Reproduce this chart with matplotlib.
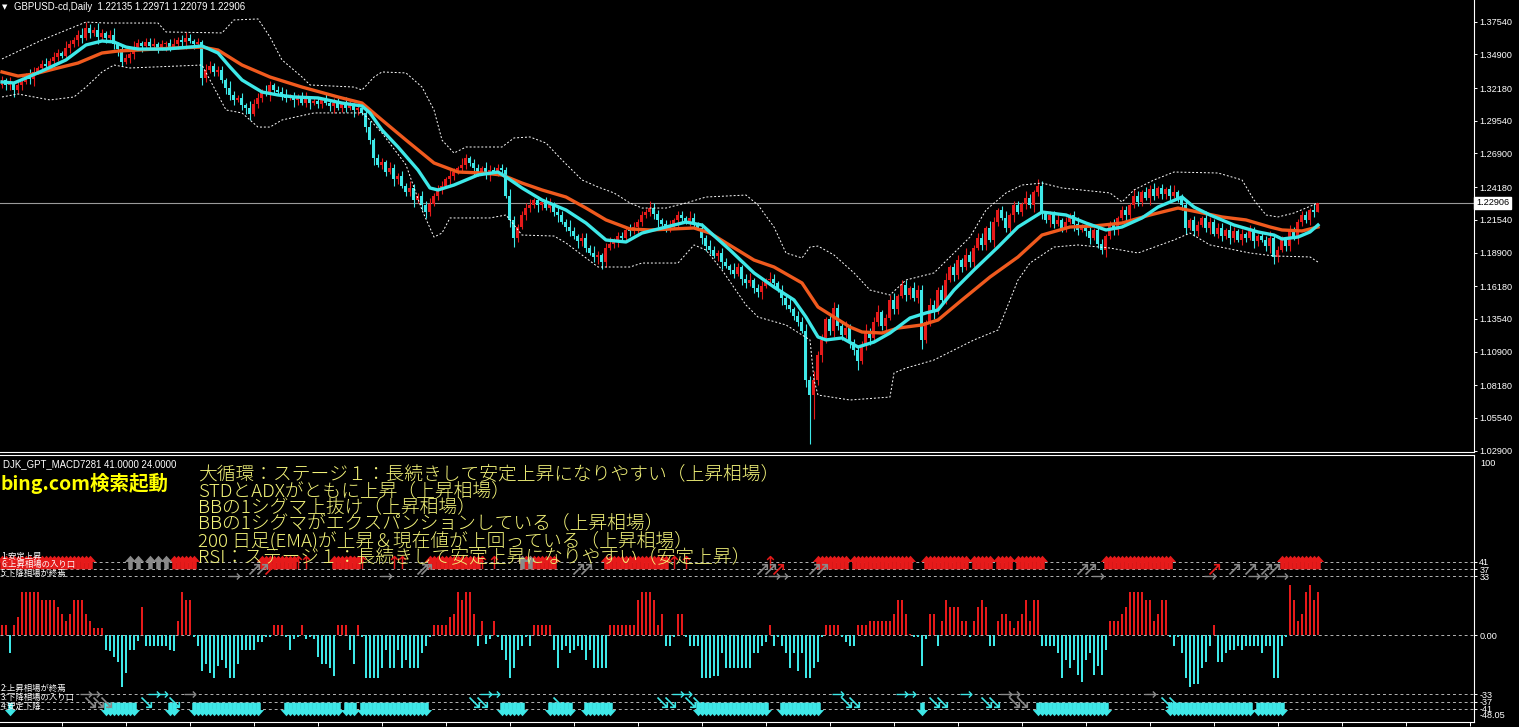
import numpy as np
import matplotlib
matplotlib.use("Agg")
import matplotlib.pyplot as plt
from matplotlib.path import Path
from matplotlib.transforms import blended_transform_factory

plt.rcParams['font.family'] = ['Liberation Sans', 'DejaVu Sans']
JP = ['Noto Sans CJK JP', 'DejaVu Sans']

W, H = 1519, 727

RED = '#e61a1a'
AQUA = '#3ee8e8'
ORANGE = '#f05a1e'
GRAY = '#8a8a8a'

symbol = "GBPUSD-cd,Daily"
ohlc_last = "1.22135 1.22971 1.22079 1.22906"
last_price = 1.22906
indicator_name = "DJK_GPT_MACD7281 41.0000 24.0000"

# daily closes in 1/1000 (bar by bar)
close = np.array([
    1328, 1324, 1325, 1320, 1324, 1327, 1332, 1329, 1335, 1338, 1341, 1340, 1344, 1347, 1350, 1348,
    1354, 1357, 1361, 1365, 1362, 1370,
    1366, 1369, 1363, 1366, 1362, 1365, 1357, 1353, 1343, 1346, 1349, 1354, 1358, 1356,
    1359, 1356, 1357, 1354, 1357, 1358, 1355, 1357, 1361, 1359, 1362, 1360, 1357, 1359,
    1330, 1336, 1340, 1335, 1336, 1328, 1322, 1316, 1312, 1314, 1308, 1306, 1301, 1309, 1314, 1319,
    1317, 1324, 1320, 1319, 1316, 1314, 1315, 1312, 1315, 1310, 1313, 1310, 1311, 1309, 1312, 1310,
    1307, 1310, 1306, 1309, 1306, 1308, 1304, 1306,
    1302, 1290, 1280, 1265, 1260, 1262, 1254, 1257, 1248, 1251, 1243, 1238, 1241, 1231, 1235, 1227,
    1222, 1228, 1235, 1240, 1243, 1248, 1251, 1254, 1257, 1260, 1265, 1261, 1257, 1254, 1257, 1252,
    1256, 1254, 1257, 1256,
    1235, 1215, 1201, 1210, 1219, 1225, 1227, 1231, 1227, 1230, 1225, 1228, 1222, 1219, 1214, 1210,
    1206, 1202, 1198, 1201, 1193, 1189, 1185, 1187, 1181, 1193, 1196, 1199, 1202, 1201, 1207, 1206,
    1210, 1214, 1219, 1222, 1225, 1220, 1215, 1212, 1209, 1210, 1215, 1219, 1217, 1214, 1217, 1212,
    1209,
    1201, 1194, 1191, 1186, 1189, 1181, 1178, 1175, 1172, 1177, 1168, 1164, 1167, 1160, 1157, 1162,
    1167, 1168, 1164, 1159, 1152, 1147, 1143, 1138, 1133, 1126,
    1086, 1074, 1086, 1106, 1118, 1135, 1126, 1144, 1130, 1122, 1128, 1117, 1110, 1101, 1114, 1126,
    1120, 1133, 1141, 1130, 1136, 1151, 1143, 1154, 1163, 1155, 1160, 1152, 1159, 1118, 1133, 1147,
    1141, 1159, 1151, 1167, 1177, 1171, 1183, 1177, 1187, 1181, 1193, 1201, 1195, 1209, 1199, 1214,
    1223, 1217, 1209, 1219, 1227, 1222, 1228, 1233, 1227, 1238, 1243,
    1220, 1215, 1219, 1212, 1215, 1209, 1214, 1219, 1212, 1207, 1210, 1206, 1201, 1207, 1196, 1191,
    1202, 1211, 1207, 1217, 1223, 1219, 1227, 1235, 1230, 1238, 1233, 1240, 1235, 1241, 1236, 1240,
    1235, 1238, 1233, 1227, 1209, 1215, 1206, 1211, 1217, 1209, 1214, 1204, 1209, 1202, 1207, 1201,
    1206, 1199, 1204, 1201, 1206, 1198, 1202, 1199, 1194, 1201, 1185, 1191, 1199, 1194, 1206, 1201,
    1214, 1219, 1215, 1223, 1221.35, 1229.06,
]) / 1000
first_open = 1.3240

# upper / lower wick lengths, in steps of 0.0018
WICK_STEP = 0.0018
wick_hi = np.array([
    2, 1, 3, 1, 2, 2, 1, 3, 2, 1, 2, 3, 1, 2, 2, 1, 3, 2, 1, 2, 3, 3, 2, 1, 3, 2, 1, 2, 3, 1,
    2, 2, 1, 3, 2, 1, 2, 2, 3, 1, 2, 1, 2, 3, 1, 2, 3, 2, 1, 2, 1, 3, 2, 1, 2, 2, 1, 3, 2, 1,
    2, 1, 3, 2, 2, 1, 3, 2, 1, 2, 2, 3, 1, 2, 1, 2, 3, 1, 2, 2, 1, 3, 1, 2, 2, 1, 3, 2, 1, 2,
    1, 2, 3, 1, 2, 2, 1, 3, 2, 1, 2, 1, 3, 2, 1, 2, 2, 3, 1, 2, 2, 1, 3, 2, 1, 3, 2, 1, 2, 2,
    1, 3, 2, 1, 2, 2, 1, 3, 2, 1, 2, 2, 3, 1, 2, 1, 2, 3, 1, 2, 2, 1, 3, 2, 1, 2, 2, 1, 3, 2,
    1, 2, 3, 1, 2, 2, 1, 3, 2, 1, 2, 1, 3, 2, 2, 1, 2, 3, 1, 2, 2, 1, 3, 2, 1, 2, 1, 3, 2, 1,
    2, 2, 1, 3, 2, 1, 2, 3, 1, 2, 2, 1, 3, 2, 1, 2, 2, 3, 1, 2, 2, 3, 2, 4, 2, 3, 1, 2, 3, 2,
    1, 3, 2, 1, 2, 2, 3, 1, 2, 3, 1, 2, 2, 3, 1, 2, 2, 1, 3, 2, 2, 1, 3, 2, 1, 2, 3, 1, 2, 2,
    1, 3, 2, 1, 2, 2, 1, 3, 2, 1, 2, 3, 1, 2, 2, 1, 3, 2, 1, 3, 2, 1, 2, 2, 3, 1, 2, 1, 2, 3,
    1, 2, 2, 1, 3, 2, 1, 2, 3, 1, 2, 2, 1, 3, 2, 1, 2, 2, 3, 1, 2, 1, 2, 3, 1, 2, 3, 1, 2, 2,
    1, 3, 2, 1, 2, 2, 1, 3, 2, 1, 2, 1, 3, 2, 1, 2, 2, 3, 1, 2, 2, 1, 3, 2, 1, 2, 2, 1, 3, 0,
]) * WICK_STEP
wick_lo = np.array([
    1, 2, 2, 3, 1, 2, 1, 2, 3, 1, 2, 2, 1, 3, 2, 1, 2, 2, 1, 3, 2, 1, 2, 1, 3, 2, 2, 1, 2, 3,
    2, 1, 2, 2, 1, 3, 2, 1, 2, 2, 1, 3, 2, 1, 2, 2, 3, 1, 2, 1, 3, 2, 1, 2, 2, 1, 3, 2, 2, 1,
    2, 3, 3, 1, 2, 2, 1, 3, 2, 1, 2, 2, 1, 3, 2, 1, 2, 3, 1, 2, 2, 1, 2, 3, 1, 2, 2, 1, 3, 2,
    1, 2, 2, 3, 1, 2, 2, 1, 3, 2, 1, 2, 2, 3, 1, 2, 3, 2, 1, 2, 2, 1, 3, 2, 1, 2, 2, 1, 3, 2,
    1, 2, 3, 1, 2, 2, 1, 3, 4, 2, 1, 2, 2, 1, 3, 2, 1, 2, 2, 3, 1, 2, 2, 1, 3, 2, 2, 1, 2, 3,
    3, 2, 1, 2, 3, 1, 2, 2, 1, 3, 2, 1, 2, 2, 3, 1, 2, 2, 1, 3, 2, 1, 2, 2, 1, 3, 2, 2, 1, 2,
    3, 1, 2, 2, 1, 3, 2, 1, 2, 2, 3, 1, 2, 2, 1, 3, 2, 1, 2, 2, 1, 3, 22, 11, 2, 3, 1, 2, 3, 2,
    2, 1, 3, 2, 4, 1, 2, 3, 1, 2, 2, 3, 1, 2, 2, 1, 3, 2, 1, 2, 4, 1, 2, 3, 1, 2, 2, 1, 3, 2,
    2, 1, 2, 3, 1, 2, 2, 1, 3, 2, 1, 2, 2, 3, 1, 2, 2, 1, 3, 2, 2, 1, 3, 2, 1, 2, 2, 1, 3, 2,
    1, 2, 3, 1, 2, 2, 3, 1, 2, 2, 1, 3, 2, 1, 2, 2, 1, 3, 2, 1, 2, 2, 3, 1, 2, 2, 3, 1, 2, 2,
    1, 2, 3, 1, 2, 2, 1, 3, 2, 1, 2, 2, 1, 3, 2, 1, 2, 3, 3, 2, 1, 2, 2, 1, 3, 2, 1, 2, 2, 0,
]) * WICK_STEP

# moving averages, sampled at bar index
ema_fast_i = [0, 3, 6, 10, 16, 21, 25, 28, 31, 34, 41, 47, 50, 54, 57, 60, 65, 69, 73, 79,
              85, 90, 92, 95, 99, 104, 107, 109, 113, 119, 124, 126, 130, 135, 141, 146, 151, 156, 160, 165,
              171, 175, 182, 188, 193, 198, 201, 204, 206, 210, 214, 218, 222, 227, 231, 234, 238, 243, 249, 254,
              260, 266, 271, 276, 280, 285, 289, 295, 298, 302, 308, 314, 318, 320, 324, 327, 329]
ema_fast_v = [1.3267, 1.3259, 1.3299, 1.3356, 1.3445, 1.3566, 1.3598, 1.3590, 1.3549, 1.3533,
              1.3533, 1.3549, 1.3558, 1.3501, 1.3388, 1.3283, 1.3186, 1.3162, 1.3146, 1.3138,
              1.3097, 1.3073, 1.3017, 1.2879, 1.2742, 1.2556, 1.2411, 1.2395, 1.2435, 1.2516,
              1.2540, 1.2500, 1.2411, 1.2314, 1.2233, 1.2128, 1.1991, 1.1975, 1.2047, 1.2088,
              1.2136, 1.2112, 1.1910, 1.1725, 1.1611, 1.1507, 1.1369, 1.1208, 1.1184, 1.1200,
              1.1127, 1.1167, 1.1240, 1.1361, 1.1402, 1.1426, 1.1587, 1.1749, 1.1934, 1.2096,
              1.2217, 1.2193, 1.2128, 1.2072, 1.2096, 1.2169, 1.2257, 1.2338, 1.2257, 1.2193,
              1.2112, 1.2056, 1.2031, 1.1999, 1.2015, 1.2056, 1.2112]
ema_slow_i = [0, 4, 8, 14, 19, 25, 29, 34, 43, 50, 54, 60, 67, 75, 84, 90, 95, 101, 108, 114,
              120, 125, 130, 135, 141, 146, 151, 157, 162, 173, 177, 188, 193, 200, 204, 208, 212, 215, 220, 224,
              230, 234, 240, 247, 254, 260, 267, 273, 280, 287, 294, 299, 305, 311, 317, 320, 325, 329]
ema_slow_v = [1.3348, 1.3315, 1.3331, 1.3380, 1.3420, 1.3501, 1.3517, 1.3525, 1.3541, 1.3549,
              1.3525, 1.3404, 1.3307, 1.3226, 1.3146, 1.3097, 1.2960, 1.2798, 1.2613, 1.2540,
              1.2532, 1.2516, 1.2451, 1.2395, 1.2338, 1.2249, 1.2153, 1.2080, 1.2072, 1.2088,
              1.2047, 1.1829, 1.1773, 1.1644, 1.1450, 1.1369, 1.1288, 1.1248, 1.1240, 1.1280,
              1.1305, 1.1345, 1.1507, 1.1692, 1.1854, 1.2031, 1.2096, 1.2104, 1.2128, 1.2193,
              1.2249, 1.2217, 1.2177, 1.2153, 1.2096, 1.2072, 1.2064, 1.2096]

# bollinger bands
bb_up_i = [0, 10, 21, 26, 39, 41, 55, 58, 64, 67, 70, 75, 77, 88, 90, 93, 95, 101, 105, 108,
           110, 113, 116, 125, 128, 132, 136, 140, 145, 149, 153, 157, 160, 166, 171, 176, 186, 189, 193, 196,
           200, 202, 204, 208, 213, 217, 222, 226, 233, 237, 242, 246, 251, 255, 260, 265, 277, 280, 283, 288,
           293, 304, 310, 313, 316, 319, 323, 329]
bb_up_v = [1.3453, 1.3606, 1.3751, 1.3743, 1.3743, 1.3671, 1.3663, 1.3768, 1.3776, 1.3630,
           1.3445, 1.3307, 1.3243, 1.3226, 1.3202, 1.3307, 1.3348, 1.3340, 1.3226, 1.3041,
           1.2798, 1.2693, 1.2742, 1.2742, 1.2815, 1.2823, 1.2774, 1.2637, 1.2476, 1.2419,
           1.2371, 1.2290, 1.2249, 1.2249, 1.2290, 1.2338, 1.2354, 1.2274, 1.2096, 1.1886,
           1.1846, 1.1934, 1.1942, 1.1870, 1.1725, 1.1587, 1.1547, 1.1668, 1.1725, 1.1854,
           1.2015, 1.2233, 1.2371, 1.2435, 1.2451, 1.2411, 1.2371, 1.2298, 1.2395, 1.2476,
           1.2540, 1.2532, 1.2476, 1.2314, 1.2193, 1.2177, 1.2209, 1.2290]
bb_lo_i = [0, 4, 12, 18, 21, 25, 28, 32, 50, 52, 56, 60, 64, 67, 70, 78, 90, 92, 95, 101,
           105, 108, 110, 112, 122, 126, 130, 138, 141, 149, 157, 160, 169, 173, 176, 180, 186, 189, 196, 202,
           203, 204, 212, 222, 223, 226, 233, 237, 243, 249, 252, 254, 257, 263, 269, 277, 284, 293, 297, 302,
           312, 318, 327, 329]
bb_lo_v = [1.3146, 1.3170, 1.3122, 1.3146, 1.3226, 1.3348, 1.3404, 1.3380, 1.3404, 1.3283,
           1.3041, 1.3017, 1.2903, 1.2903, 1.2960, 1.3017, 1.3017, 1.2960, 1.2855, 1.2597,
           1.2233, 1.2015, 1.2047, 1.2169, 1.2169, 1.2193, 1.2031, 1.2023, 1.1967, 1.1773,
           1.1773, 1.1805, 1.1805, 1.1951, 1.1910, 1.1749, 1.1466, 1.1369, 1.1305, 1.1184,
           1.0861, 1.0739, 1.0699, 1.0723, 1.0917, 1.0957, 1.1022, 1.1087, 1.1184, 1.1264,
           1.1507, 1.1668, 1.1805, 1.1934, 1.1951, 1.1926, 1.1886, 1.1991, 1.2047, 1.1951,
           1.1886, 1.1862, 1.1854, 1.1813]

price_ticks = [1.37540, 1.34900, 1.32180, 1.29540, 1.26900, 1.24180, 1.21540,
               1.18900, 1.16180, 1.13540, 1.10900, 1.08180, 1.05540, 1.02900]

# oscillator histogram
hist = np.array([
    6, 6, -10, 6, 10, 24, 24, 24, 24, 24, 20, 20, 20, 20, 16, 12, 8, 12, 20, 20, 20, 12, 8, 4, 4, 4,
    -8, -9, -12, -15, -29, -21, -8, -8, -3, 16, -6, -6, -6, -6, -6, -6, -8, -9, 8, 24, 20, 20,
    -1, -6, -20, -16, -21, -24, -17, -14, -18, -24, -24, -16, -8, -8, -8, -8, -4, -4, -1, -1,
    6, 6, 6, -1, -8, -2, -1, 6, -2, -1, -2, -12, -16, -16, -18, -23, 6, 6, 6, -8, -16, 6,
    -1, -24, -24, -24, -24, -18, -8, -18, -18, -8, -18, -14, -18, -18, -18, -10, -6, -1,
    6, 6, 6, 6, 10, 12, 24, 20, 24, 24, 12, -6, 8, -5, -2, 8, -1, -8, -14, -24, -18, -8, -6, -1, -6,
    6, 6, 6, 6, 6,
    -8, -18, -8, -6, -10, -8, -6, -8, -14, -8, -18, -18, -18, -18, 6, 6, 6, 6, 6, 6, 6, 20, 24, 24,
    24, 20, 6, 12, -6, -6, -1, 12, 12, -1,
    -6, -6, -6, -24, -24, -24, -23, -23, -10, -18, -18, -18, -18, -18, -18, -18, -10, -10, -6, -4,
    6, -6, -1, -6, -10, -18, -10, -20, -10, -24, -24, -18, -15, -1, 6, 6, 6, 6, -1, -4, -6, -6,
    6, 6, 6, 8, 8, 8, 8, 8, 8, 12, 20, 20, 12, 1, -1, -1, -17, -2, 12, 12, -6, 8, 20, 16, 16, 16,
    8, 8, -1, 8, 16, 20, 16, -6, -6, 8, 12, 12, 8, 4, 8, 12, 20, 8, 20, 20,
    -6, -6, -6, -6, -10, -24, -14, -18, -14, -22, -26, -14, -10, -22, -17, -22, -8, 8, 8, 8,
    12, 16, 24, 24, 24, 24, 20, 20, 8, 12, 20, 20,
    -1, -6, -1, -10, -24, -29, -27, -27, -18, -15, -6, 6, -15, -15, -10, -8, -8, -6, -8, -6,
    -6, -6, -6, -10, -6, -6, -24, -24, -6, -1, 28, 20, 8, 12, 24, 28, 20, 24,
])

osc_levels = [41, 37, 33, 0, -33, -37, -41]
osc_labels = ['41', '37', '33', '0.00', '-33', '-37', '-41']

# signal arrows (bar indices)
up_red_runs = [(0, 22), (43, 48), (65, 73), (83, 89), (107, 119), (130, 138), (151, 166),
               (204, 211), (213, 227), (231, 241), (243, 247), (249, 252), (254, 260),
               (276, 292), (320, 329)]
up_red_thin = [74, 76, 87, 90, 98, 100, 120, 123, 168, 171, 192]
up_gray = [32, 34, 37, 39, 41, 130, 132]
ne_gray = [63, 65, 105, 106, 144, 146, 190, 192, 203, 205, 270, 272, 308, 312, 316, 318]
ne_red = [67, 194, 303]
right_gray_top = [58, 96, 193, 195, 274, 302, 313, 315, 320]
down_cyan_runs = [(2, 2), (26, 33), (42, 43), (48, 64), (71, 84), (86, 88), (90, 106),
                  (125, 130), (137, 142), (146, 152), (174, 191), (195, 204), (230, 230),
                  (259, 276), (292, 312), (314, 316), (317, 320)]
se_cyan = [36, 43, 118, 120, 139, 165, 167, 172, 174, 211, 213, 233, 235, 246, 248, 291, 293]
right_cyan = [38, 40, 121, 123, 169, 171, 209, 225, 227, 241]
right_gray_bot = [21, 23, 47, 251, 253, 287]
se_gray = [22, 24, 26, 253, 255]

signal_lines = [
    "大循環：ステージ１：長続きして安定上昇になりやすい（上昇相場）",
    "STDとADXがともに上昇（上昇相場）",
    "BBの1シグマ上抜け（上昇相場）",
    "BBの1シグマがエクスパンションしている（上昇相場）",
    "200 日足(EMA)が上昇＆現在値が上回っている（上昇相場）",
    "RSI：ステージ１：長続きして安定上昇になりやすい（安定上昇）",
]
top_legend = ["1:安定上昇", "6:上昇相場の入り口", "5:下降相場が終焉"]
bottom_legend = ["2:上昇相場が終焉", "3:下降相場の入り口", "4:安定下降"]


def runs(rr):
    out = []
    for a, b in rr:
        out.extend(range(a, b + 1))
    return out


def fx(px):
    return px / W


def fy(py):
    return 1 - py / H


n = len(close)
idx = np.arange(n)
open_ = np.r_[first_open, close[:-1]]
rising = close >= open_
top = np.maximum(open_, close)
bot = np.minimum(open_, close)
high = top + wick_hi
low = bot - wick_lo
ccol = np.where(rising, RED, AQUA)

fig = plt.figure(figsize=(W / 100, H / 100), dpi=100, facecolor='black')
ax = fig.add_axes([0, fy(452), fx(1474), 452 / H], facecolor='black')
ax2 = fig.add_axes([0, fy(722), fx(1474), (722 - 455) / H], facecolor='black')

xlim = (-0.5, -0.5 + 1474 / 4)

# ---- price panel
ax.axhline(last_price, color='#9a9a9a', lw=0.8, zorder=1)
ax.vlines(idx, low, high, colors=ccol, lw=0.8, zorder=2)
ax.bar(idx, np.maximum(top - bot, 0.0005), bottom=bot, width=0.75, color=ccol, lw=0, zorder=3)
ax.plot(bb_up_i, bb_up_v, color='white', lw=0.7, ls=(0, (2, 2)), zorder=4)
ax.plot(bb_lo_i, bb_lo_v, color='white', lw=0.7, ls=(0, (2, 2)), zorder=4)
ax.plot(ema_slow_i, ema_slow_v, color=ORANGE, lw=2.4, zorder=5, solid_joinstyle='round')
ax.plot(ema_fast_i, ema_fast_v, color=AQUA, lw=2.4, zorder=6, solid_joinstyle='round')

ax.set_xlim(*xlim)
ax.set_ylim(1.3929 - 452 * 0.0008075, 1.3929)
ax.set_xticks([])
ax.yaxis.tick_right()
ax.set_yticks(price_ticks)
ax.set_yticklabels([f"{v:.5f}" for v in price_ticks])
ax.tick_params(axis='y', colors='white', labelsize=6.6, length=2.2, width=0.7, pad=1.6)
for s in ['top', 'left']:
    ax.spines[s].set_visible(False)
for s in ['right', 'bottom']:
    ax.spines[s].set_color('white')
    ax.spines[s].set_linewidth(0.8)

bt = blended_transform_factory(ax.transAxes, ax.transData)
ax.text(1.0015, last_price, f"{last_price:.5f}", transform=bt, ha='left', va='center',
        fontsize=6.6, color='black', zorder=10,
        bbox=dict(boxstyle='square,pad=0.2', fc='white', ec='white'))

# ---- oscillator panel
hcol = np.where(hist > 0, RED, AQUA)
ax2.bar(idx, hist, width=0.72, color=hcol, lw=0, zorder=2)
for lv in osc_levels:
    ax2.axhline(lv, color='#b4b4b4', lw=0.7, ls=(0, (3, 3)), zorder=1)

head = [(0, 0.6), (0.5, 0.05), (0.2, 0.05), (0.2, -0.6), (-0.2, -0.6), (-0.2, 0.05), (-0.5, 0.05), (0, 0.6)]
up_arrow = Path(head, closed=True)
down_arrow = Path([(x, -y) for x, y in head], closed=True)

ur = runs(up_red_runs)
ax2.scatter(ur, [41] * len(ur), marker=up_arrow, s=95, c=RED, lw=0, zorder=4)
ax2.scatter(up_gray, [41] * len(up_gray), marker=up_arrow, s=95, c=GRAY, lw=0, zorder=4)
ax2.scatter(up_red_thin, [41] * len(up_red_thin), marker=r'$\uparrow$', s=90, c=RED, lw=0, zorder=4)
ax2.scatter(ne_gray, [37] * len(ne_gray), marker=r'$\nearrow$', s=65, c=GRAY, lw=0, zorder=4)
ax2.scatter(ne_red, [37] * len(ne_red), marker=r'$\nearrow$', s=65, c=RED, lw=0, zorder=4)
ax2.scatter(right_gray_top, [33] * len(right_gray_top), marker=r'$\rightarrow$', s=75, c=GRAY, lw=0, zorder=4)

dc = runs(down_cyan_runs)
ax2.scatter(dc, [-41] * len(dc), marker=down_arrow, s=95, c=AQUA, lw=0, zorder=4)
ax2.scatter(se_cyan, [-37] * len(se_cyan), marker=r'$\searrow$', s=65, c=AQUA, lw=0, zorder=4)
ax2.scatter(se_gray, [-37] * len(se_gray), marker=r'$\searrow$', s=65, c=GRAY, lw=0, zorder=4)
ax2.scatter(right_cyan, [-33] * len(right_cyan), marker=r'$\rightarrow$', s=75, c=AQUA, lw=0, zorder=4)
ax2.scatter(right_gray_bot, [-33] * len(right_gray_bot), marker=r'$\rightarrow$', s=75, c=GRAY, lw=0, zorder=4)

ax2.set_xlim(*xlim)
ax2.set_ylim((635.3 - 722) / 1.79, (635.3 - 455) / 1.79)
ax2.yaxis.tick_right()
ax2.set_yticks(osc_levels)
ax2.set_yticklabels(osc_labels)
ax2.tick_params(axis='y', colors='white', labelsize=6.6, length=2.2, width=0.7, pad=1.6)
ax2.set_xticks(np.arange(15, 368, 16))
ax2.tick_params(axis='x', colors='white', length=3, width=0.7, labelbottom=False)
ax2.spines['left'].set_visible(False)
for s in ['right', 'bottom', 'top']:
    ax2.spines[s].set_color('white')
    ax2.spines[s].set_linewidth(0.8)
ax2.text(1.004, 0.970, '100', transform=ax2.transAxes, fontsize=6.6, color='white', va='center')
ax2.text(1.004, 0.0225, '-48.05', transform=ax2.transAxes, fontsize=6.6, color='white', va='center')

# ---- texts
fig.text(fx(2), fy(7), '▼', fontsize=5, color='white', va='center', family='DejaVu Sans')
fig.text(fx(14), fy(7), f"{symbol}  {ohlc_last}", fontsize=6.9, color='white', va='center')
fig.text(fx(3), fy(464), indicator_name, fontsize=6.9, color='white', va='center')
fig.text(fx(0), fy(483), "bing.com検索起動", fontsize=14, color='#ffff00', fontweight='bold',
         va='center', family=JP)
# the six signal lines as one stacked block
fig.text(fx(198), fy(516), "\n".join(signal_lines), fontsize=13.5, color='#f4f47a',
         va='center', ha='left', family=JP, fontweight='light', linespacing=0.88, zorder=3)
fig.text(fx(1), fy(564.5), "\n".join(top_legend), fontsize=6, color='white', va='center',
         family=JP, linespacing=0.95, zorder=6)
fig.text(fx(1), fy(697.5), "\n".join(bottom_legend), fontsize=6, color='white', va='center',
         family=JP, linespacing=0.95, zorder=6)

fig.savefig('out.png', dpi=100, facecolor='black')
